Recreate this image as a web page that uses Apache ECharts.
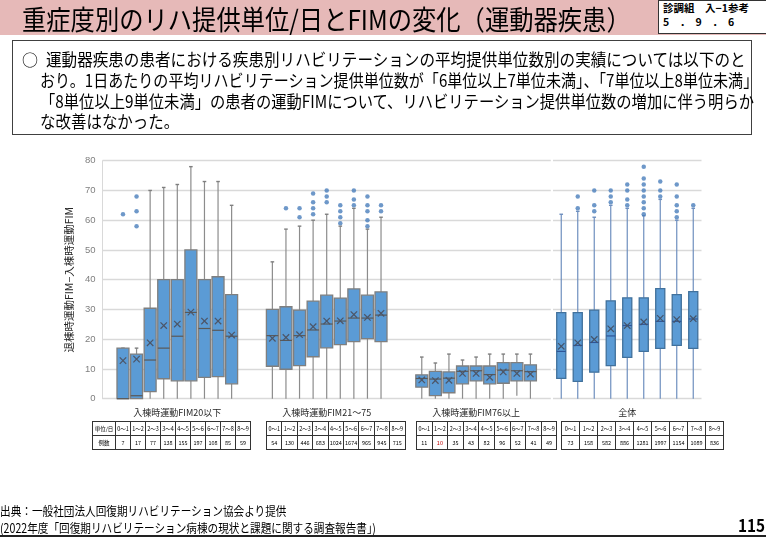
<!DOCTYPE html>
<html>
<head>
    <meta charset="UTF-8">
    <title>リハ提供単位とFIM</title>
    <script src="https://cdn.jsdelivr.net/npm/echarts@6/dist/echarts.min.js"></script>
    <style>
        *{margin:0;padding:0}
        html,body{width:766px;height:537px;background:#fff;overflow:hidden;
            font-family:"Noto Sans CJK JP","Noto Sans",sans-serif;color:#000}
        #main{position:absolute;left:0;top:0;width:766px;height:537px}
        .abs{position:absolute;white-space:nowrap}
        #titlebar{position:absolute;left:0;top:0;width:766px;height:35px;background:#e6b9b8}
        #title{left:22px;top:-1px;font-size:27px;transform:scaleX(.9);transform-origin:left top}
        #ref{position:absolute;left:658px;top:0;width:106px;height:32px;background:#fff;
            border:1px solid #333;font-size:10.5px;line-height:14px;padding-left:4px;font-weight:bold}
        #note{position:absolute;left:12px;top:40px;width:738px;height:93px;border:1.5px solid #404040}
        .line{font-size:17px;transform-origin:left top}
        .tbl{position:absolute;top:421px;border-collapse:collapse;table-layout:fixed;
            font-size:5.5px;text-align:center}
        .tbl td{border:1px solid #333;height:13px;padding:0;overflow:hidden;white-space:nowrap}
        #foot1,#foot2{font-size:12.5px;transform:scaleX(.85);transform-origin:left top}
        #page{left:738px;top:512px;font-size:17px;font-weight:bold;transform:scaleX(.9);transform-origin:left top}
        #rule{position:absolute;left:0;top:535px;width:766px;height:1.5px;background:#222}
    </style>
</head>
<body>
    <div id="main"></div>
    <div id="titlebar"></div>
    <div id="title" class="abs">重症度別のリハ提供単位/日とFIMの変化（運動器疾患）</div>
    <div id="ref">診調組　入−1参考<br>5　．　9　．　6</div>
    <div id="note"></div>
    <div class="abs" style="left:22px;top:47px;font-size:16px">○</div>
    <div class="abs line" style="left:46px;top:46px;transform:scaleX(.916)">運動器疾患の患者における疾患別リハビリテーションの平均提供単位数別の実績については以下のと</div>
    <div class="abs line" style="left:40px;top:67px;transform:scaleX(.885)">おり。1日あたりの平均リハビリテーション提供単位数が「6単位以上7単位未満」、「7単位以上8単位未満」</div>
    <div class="abs line" style="left:40px;top:88px;transform:scaleX(.9)">「8単位以上9単位未満」の患者の運動FIMについて、リハビリテーション提供単位数の増加に伴う明らか</div>
    <div class="abs line" style="left:40px;top:108px;transform:scaleX(.91)">な改善はなかった。</div>
    <div id="tables"></div>
    <div id="foot1" class="abs" style="left:0;top:501px">出典：一般社団法人回復期リハビリテーション協会より提供</div>
    <div id="foot2" class="abs" style="left:0;top:518px">(2022年度「回復期リハビリテーション病棟の現状と課題に関する調査報告書」)</div>
    <div id="page" class="abs">115</div>
    <div id="rule"></div>
    <script type="text/javascript">
        var unitLabels = ['0～1', '1～2', '2～3', '3～4', '4～5', '5～6', '6～7', '7～8', '8～9'];
        var groupNames = ['入棟時運動FIM20以下', '入棟時運動FIM21～75', '入棟時運動FIM76以上', '全体'];

        // 箱ひげ: [最小, 第1四分位, 中央値, 第3四分位, 最大]
        var boxFim20 = [
            [0, 0, 0, 17, 17],
            [0, 0, 1, 15, 17],
            [0, 2.4, 13, 30.4, 70],
            [0, 6.7, 17, 40, 71],
            [0, 6, 21, 40, 72],
            [0, 6, 29, 50, 78],
            [0, 7.2, 23.6, 40, 73],
            [0, 7.4, 23, 41, 73],
            [0, 5, 21, 35, 65]
        ];
        var meanFim20 = [12.8, 13.3, 18.8, 24.6, 25.1, 29.1, 26.1, 26.1, 21.4];
        var outFim20 = [[62], [58, 63, 68], [], [], [], [], [], [], []];

        var boxFim21 = [
            [0, 10.9, 21.2, 30, 46],
            [0, 9.9, 19.6, 30.9, 57],
            [0, 11.1, 21.2, 29.8, 58],
            [0, 14.1, 23.1, 32.8, 60],
            [0, 17.1, 25.1, 34.8, 62],
            [0, 18.2, 26.1, 33.8, 58],
            [0, 19.2, 27.1, 36.9, 64],
            [0, 20.2, 27.1, 34.8, 57],
            [0, 19.2, 28.1, 35.9, 61]
        ];
        var meanFim21 = [20.3, 20.6, 21.5, 24.2, 26.1, 26.2, 28.3, 27.3, 28.7];
        var outFim21 = [[], [64], [61, 64], [62, 64, 66, 69], [66, 68, 70], [59, 61, 63, 65], [65, 67, 70], [58, 60, 63, 65, 68], [63, 65]];

        var boxFim76 = [
            [0, 3.9, 6.8, 8, 14],
            [0, 1, 6.6, 9.2, 12],
            [0, 2, 6.9, 9, 15],
            [0, 5, 9.2, 11, 13],
            [0, 6, 9.4, 11, 14],
            [0, 5, 8.1, 11, 15],
            [0, 5.2, 9.6, 12.1, 15],
            [1, 6, 9.4, 12.1, 15],
            [0, 6, 9.1, 11.4, 15]
        ];
        var meanFim76 = [6.3, 6.1, 6.2, 8.5, 8.5, 7.2, 9.0, 8.5, 8.3];
        var outFim76 = [[], [], [], [], [], [], [], [], []];

        var boxAll = [
            [0, 6.8, 15.9, 28.9, 62],
            [0, 5.8, 17.9, 28.9, 63],
            [0, 8.9, 18.9, 29.8, 61],
            [0, 11.1, 21.1, 32.9, 65],
            [0, 13.9, 24.6, 33.9, 64],
            [0, 15.9, 25, 33.9, 61.5],
            [0, 16.9, 26, 37, 67],
            [0, 17.9, 26, 35, 60],
            [0, 16.9, 26.8, 36, 64]
        ];
        var meanAll = [17.6, 18.8, 19.9, 23.5, 24.6, 25.8, 27.0, 26.6, 26.9];
        var outAll = [[], [64, 68], [63, 65, 70], [66, 68, 70], [65, 67, 70, 72], [62, 64, 66, 68, 70, 72, 74, 78], [68, 70, 73], [61, 63, 65, 68, 72], [65]];

        // 例数
        var countFim20 = [7, 17, 77, 138, 155, 197, 108, 85, 59];
        var countFim21 = [54, 130, 446, 683, 1024, 1674, 965, 945, 715];
        var countFim76 = [11, 10, 35, 43, 82, 96, 52, 41, 49];
        var countAll = [73, 158, 582, 886, 1281, 1997, 1154, 1089, 836];

        var blocks = [
            {box: boxFim20, mean: meanFim20, out: outFim20},
            {box: boxFim21, mean: meanFim21, out: outFim21},
            {box: boxFim76, mean: meanFim76, out: outFim76}
        ];

        // 左グラフ: 1群 = 9本 + 空き2枠
        var slots = [], leftBoxes = [], leftOut = [];
        for (var s = 0; s < 33; s++) slots.push('s' + s);
        blocks.forEach(function (b, g) {
            b.box.forEach(function (v, i) {
                var slot = 1 + g * 11 + i;
                leftBoxes.push([slot].concat(v).concat([b.mean[i]]));
                b.out[i].forEach(function (o) { leftOut.push([slot, o]); });
            });
        });
        var rightBoxes = [], rightOut = [];
        boxAll.forEach(function (v, i) {
            rightBoxes.push([i].concat(v).concat([meanAll[i]]));
            outAll[i].forEach(function (o) { rightOut.push([i, o]); });
        });

        var grayLook = {fill: '#5b9bd5', border: '#7f7f7f', whisker: '#8c8c8c', cap: '#7f7f7f', median: '#595959', mean: '#4d5566'};
        var blueLook = {fill: '#5b9bd5', border: '#41719c', whisker: '#6e8fbf', cap: '#6e8fbf', median: '#2f5597', mean: '#44546a'};

        function boxRenderer(ratio, look) {
            return function (params, api) {
                var x = api.value(0);
                var bw = api.size([1, 0])[0] * ratio;
                var pts = [1, 2, 3, 4, 5, 6].map(function (d) { return api.coord([x, api.value(d)]); });
                var cx = pts[0][0];
                var yMin = pts[0][1], yQ1 = pts[1][1], yMed = pts[2][1], yQ3 = pts[3][1], yMax = pts[4][1], yMean = pts[5][1];
                var wStyle = {stroke: look.whisker, lineWidth: 1.2};
                var m = 3.2;
                return {
                    type: 'group',
                    children: [
                        {type: 'line', shape: {x1: cx, y1: yQ3, x2: cx, y2: yMax}, style: wStyle},
                        {type: 'line', shape: {x1: cx, y1: yQ1, x2: cx, y2: yMin}, style: wStyle},
                        {type: 'line', shape: {x1: cx - 1.8, y1: yMax, x2: cx + 1.8, y2: yMax}, style: {stroke: look.cap, lineWidth: 1.4}},
                        {type: 'rect', shape: {x: cx - bw / 2, y: yQ3, width: bw, height: yQ1 - yQ3},
                            style: {fill: look.fill, stroke: look.border, lineWidth: 1.3}},
                        {type: 'line', shape: {x1: cx - bw / 2, y1: yMed, x2: cx + bw / 2, y2: yMed}, style: {stroke: look.median, lineWidth: 1.2}},
                        {type: 'line', shape: {x1: cx - m, y1: yMean - m, x2: cx + m, y2: yMean + m}, style: {stroke: look.mean, lineWidth: 1.2}},
                        {type: 'line', shape: {x1: cx - m, y1: yMean + m, x2: cx + m, y2: yMean - m}, style: {stroke: look.mean, lineWidth: 1.2}}
                    ]
                };
            };
        }

        var labelFont = '"Noto Sans CJK JP", sans-serif';
        var myChart = echarts.init(document.getElementById('main'));
        var option = {
            animation: false,
            grid: [
                {left: 102.6, top: 160.7, width: 448.2, height: 238},
                {left: 553, top: 160.7, width: 148.5, height: 238}
            ],
            xAxis: [
                {
                    type: 'category', gridIndex: 0, data: slots,
                    axisLine: {show: false}, axisTick: {show: false},
                    axisLabel: {
                        interval: 0, margin: 9, fontSize: 9, color: '#262626', fontFamily: labelFont,
                        formatter: function (v, idx) {
                            for (var g = 0; g < 3; g++) if (idx === 1 + g * 11 + 4) return groupNames[g];
                            return '';
                        }
                    }
                },
                {
                    type: 'category', gridIndex: 1, data: unitLabels,
                    axisLine: {show: false}, axisTick: {show: false},
                    axisLabel: {
                        interval: 0, margin: 9, fontSize: 9, color: '#262626', fontFamily: labelFont,
                        formatter: function (v, idx) { return idx === 4 ? groupNames[3] : ''; }
                    }
                }
            ],
            yAxis: [
                {
                    type: 'value', gridIndex: 0, min: 0, max: 80, interval: 10,
                    name: '退棟時運動FIM−入棟時運動FIM', nameLocation: 'middle', nameGap: 24,
                    nameTextStyle: {fontSize: 10.5, color: '#262626', fontFamily: labelFont},
                    axisLine: {show: true, lineStyle: {color: '#d9d9d9'}}, axisTick: {show: false},
                    axisLabel: {fontSize: 9.5, color: '#7f7f7f', margin: 7},
                    splitLine: {lineStyle: {color: '#d9d9d9', width: 1.3}}
                },
                {
                    type: 'value', gridIndex: 1, min: 0, max: 80, interval: 10,
                    axisLine: {show: false}, axisTick: {show: false}, axisLabel: {show: false},
                    splitLine: {lineStyle: {color: '#d9d9d9', width: 1.3}}
                }
            ],
            series: [
                {
                    type: 'custom', xAxisIndex: 0, yAxisIndex: 0,
                    renderItem: boxRenderer(0.88, grayLook),
                    encode: {x: 0, y: [1, 2, 3, 4, 5, 6]},
                    data: leftBoxes
                },
                {
                    type: 'scatter', xAxisIndex: 0, yAxisIndex: 0,
                    symbolSize: 4.5, itemStyle: {color: '#4a7ebb'},
                    data: leftOut
                },
                {
                    type: 'custom', xAxisIndex: 1, yAxisIndex: 1,
                    renderItem: boxRenderer(0.55, blueLook),
                    encode: {x: 0, y: [1, 2, 3, 4, 5, 6]},
                    data: rightBoxes
                },
                {
                    type: 'scatter', xAxisIndex: 1, yAxisIndex: 1,
                    symbolSize: 4.5, itemStyle: {color: '#4a7ebb'},
                    data: rightOut
                }
            ]
        };
        myChart.setOption(option);

        // 例数の表
        var tableSpecs = [
            {left: 92, colW: 15, counts: countFim20, head: true},
            {left: 266, colW: 15.4, counts: countFim21},
            {left: 416, colW: 15.6, counts: countFim76, red: 1},
            {left: 561, colW: 18, counts: countAll}
        ];
        var html = '';
        tableSpecs.forEach(function (t) {
            var r1 = '', r2 = '', cols = '';
            var w = t.colW * 9 + (t.head ? 23 : 0);
            if (t.head) {
                cols += '<col style="width:23px">';
                r1 += '<td>単位/日</td>';
                r2 += '<td>例数</td>';
            }
            unitLabels.forEach(function (u, i) {
                cols += '<col style="width:' + t.colW + 'px">';
                r1 += '<td>' + u + '</td>';
                r2 += '<td' + (t.red === i ? ' style="color:#c00000"' : '') + '>' + t.counts[i] + '</td>';
            });
            html += '<table class="tbl" style="left:' + t.left + 'px;width:' + w + 'px">' + cols +
                '<tr>' + r1 + '</tr><tr>' + r2 + '</tr></table>';
        });
        document.getElementById('tables').innerHTML = html;
    </script>
</body>
</html>
